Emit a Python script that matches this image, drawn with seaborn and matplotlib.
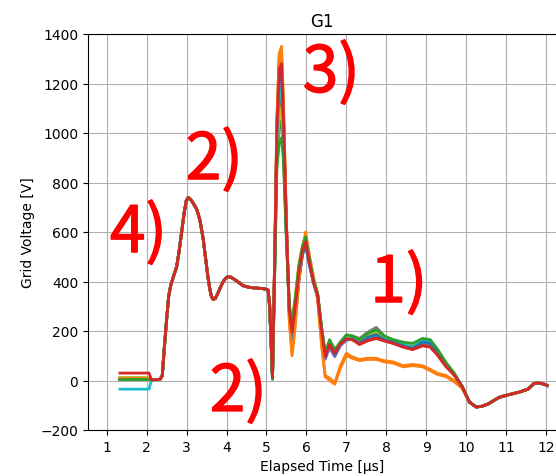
import matplotlib
matplotlib.use("Agg")
import matplotlib.pyplot as plt
import matplotlib.patheffects as pe
import seaborn as sns
import pandas as pd

# ---- data ----
series_names = [f"shot{i:02d}" for i in range(14)]
tab10 = ["#1f77b4", "#ff7f0e", "#2ca02c", "#d62728", "#9467bd",
         "#8c564b", "#e377c2", "#7f7f7f", "#bcbd22", "#17becf"]

t_pre = [1.33, 2.06]
start_levels = [5, 8, 4, 6, 5, 7, 6, 10, 12, -35, 5, 8, 4, 30]

t_head = [2.12, 2.33, 2.39, 2.44, 2.50, 2.55, 2.60, 2.67, 2.75, 2.81, 2.875, 2.94, 2.99, 3.04,
          3.11, 3.18, 3.25, 3.33, 3.415, 3.47, 3.53, 3.58, 3.62, 3.665, 3.72, 3.78, 3.83, 3.90,
          3.97, 4.04, 4.10, 4.17, 4.25, 4.33, 4.415, 4.55, 4.70, 4.85, 4.97, 5.04]
v_head = [3, 4, 20, 130, 249, 340, 383, 420, 459, 520, 600, 680, 725, 740,
          730, 712, 693, 650, 572, 500, 422, 370, 340, 327, 332, 352, 370, 395,
          412, 420, 418, 411, 403, 393, 383, 377, 374, 372, 370, 365]

t_mid = [5.08, 5.15, 5.21, 5.26, 5.32, 5.375, 5.42, 5.49, 5.57, 5.64, 5.72, 5.81, 5.90, 5.98,
         6.07, 6.17, 6.28, 6.38, 6.47, 6.58, 6.71, 6.85, 7.00, 7.15, 7.33, 7.53, 7.75, 7.95,
         8.18, 8.42, 8.66, 8.91, 9.10, 9.27, 9.50, 9.70, 9.90]

v_mid = [
    [300, 10, 520, 1000, 1200, 1230, 1050, 650, 280, 190, 290, 430, 520, 560, 480, 410, 350, 200, 95, 150, 105, 140, 165, 170, 150, 175, 180, 165, 150, 140, 130, 150, 140, 110, 60, 25, -25],
    [310, 15, 540, 1050, 1320, 1350, 1150, 700, 250, 110, 230, 400, 520, 580, 500, 420, 330, 150, 20, 10, -10, 60, 110, 95, 85, 90, 90, 80, 75, 60, 65, 60, 45, 30, 20, 0, -30],
    [290, 5, 480, 880, 1020, 1050, 950, 620, 300, 220, 320, 450, 530, 570, 490, 400, 340, 210, 100, 160, 120, 150, 180, 175, 160, 185, 200, 175, 160, 150, 140, 165, 155, 120, 65, 28, -25],
    [305, 12, 530, 1020, 1270, 1290, 1100, 680, 290, 200, 300, 440, 525, 565, 485, 405, 350, 205, 100, 145, 110, 150, 170, 165, 145, 160, 170, 160, 150, 135, 125, 140, 135, 105, 55, 22, -25],
    [300, 8, 500, 960, 1180, 1200, 1030, 640, 285, 170, 280, 420, 510, 550, 470, 400, 340, 190, 90, 140, 100, 145, 170, 180, 165, 190, 200, 175, 160, 145, 135, 150, 145, 115, 62, 25, -25],
    [295, 10, 490, 940, 1130, 1150, 990, 620, 295, 230, 330, 460, 540, 575, 495, 410, 350, 210, 110, 155, 115, 155, 175, 170, 155, 180, 190, 170, 160, 150, 140, 155, 150, 120, 65, 27, -25],
    [300, 10, 515, 1000, 1250, 1280, 1090, 660, 270, 150, 260, 410, 510, 555, 475, 400, 340, 195, 85, 130, 95, 140, 160, 175, 160, 180, 185, 170, 155, 140, 130, 145, 140, 110, 58, 24, -25],
    [305, 12, 530, 1040, 1300, 1320, 1120, 680, 280, 160, 270, 420, 520, 565, 485, 405, 345, 200, 95, 150, 110, 150, 175, 180, 170, 195, 215, 180, 160, 145, 135, 150, 145, 115, 62, 25, -25],
    [295, 8, 470, 900, 1080, 1100, 960, 630, 310, 240, 340, 470, 545, 585, 500, 415, 355, 215, 110, 160, 120, 155, 180, 175, 160, 185, 195, 170, 160, 150, 145, 160, 150, 120, 66, 27, -25],
    [300, 10, 505, 980, 1160, 1180, 1010, 640, 285, 180, 285, 430, 515, 555, 475, 405, 345, 200, 95, 145, 105, 150, 170, 165, 150, 170, 180, 165, 155, 145, 135, 160, 160, 125, 68, 27, -25],
    [300, 10, 520, 1010, 1240, 1260, 1070, 660, 275, 140, 250, 400, 505, 550, 470, 400, 335, 190, 90, 140, 100, 145, 165, 170, 150, 175, 185, 165, 155, 140, 130, 155, 150, 115, 60, 25, -25],
    [310, 15, 545, 1060, 1320, 1340, 1140, 690, 240, 100, 220, 400, 530, 600, 510, 425, 330, 140, 15, 0, -15, 50, 100, 90, 80, 85, 85, 75, 70, 55, 60, 55, 40, 25, 15, -5, -32],
    [290, 5, 460, 860, 960, 980, 900, 600, 300, 230, 330, 460, 540, 580, 495, 410, 350, 215, 110, 165, 125, 155, 185, 180, 165, 190, 205, 180, 165, 155, 150, 170, 165, 130, 72, 30, -25],
    [305, 12, 528, 1010, 1260, 1280, 1090, 670, 285, 195, 295, 435, 520, 560, 480, 400, 345, 200, 98, 145, 110, 148, 168, 165, 148, 162, 172, 160, 150, 136, 126, 142, 136, 106, 56, 22, -25],
]

t_end = [10.08, 10.25, 10.40, 10.55, 10.70, 10.83, 11.05, 11.33, 11.55, 11.70, 11.82, 11.95, 12.03]
v_end = [-87, -107, -104, -95, -80, -68, -58, -47, -35, -12, -10, -15, -20]

x_ticks = list(range(1, 13))
y_ticks = list(range(-200, 1401, 200))

notes = ["4)", "2)", "3)", "1)", "2)"]
note_x = [1.08, 2.98, 5.91, 7.60, 3.58]
note_y = [519, 814, 1166, 317, -123]

# ---- build long table ----
rows = []
for i, name in enumerate(series_names):
    ts = t_pre + t_head + t_mid + t_end
    vs = [start_levels[i], start_levels[i]] + v_head + v_mid[i] + v_end
    for t, v in zip(ts, vs):
        rows.append((name, t, v))
df = pd.DataFrame(rows, columns=["series", "t", "v"])
palette = [tab10[i % 10] for i in range(len(series_names))]

# ---- plot ----
fig = plt.figure(figsize=(5.56, 4.77), dpi=100)
ax = fig.add_axes([88 / 556, 1 - 431 / 477, (556 - 88) / 556, (431 - 35) / 477])
sns.lineplot(data=df, x="t", y="v", hue="series", palette=palette,
             estimator=None, sort=False, legend=False, linewidth=2, ax=ax)

ax.set_xlim(0.53, 12.25)
ax.set_ylim(-200, 1400)
ax.set_xticks(x_ticks)
ax.set_yticks(y_ticks)
ax.grid(True, color="#b0b0b0", linewidth=0.8)
ax.spines["right"].set_visible(False)
ax.set_title("G1", fontsize=12)
ax.set_xlabel("Elapsed Time [μs]")
ax.set_ylabel("Grid Voltage [V]")

for s, x, y in zip(notes, note_x, note_y):
    ax.text(x, y, s, color="red", fontsize=46, fontweight="normal",
            family=["Noto Sans CJK JP", "DejaVu Sans"], ha="left", va="baseline",
            path_effects=[pe.withStroke(linewidth=1.0, foreground="red")])

fig.savefig("out.png", dpi=100)
